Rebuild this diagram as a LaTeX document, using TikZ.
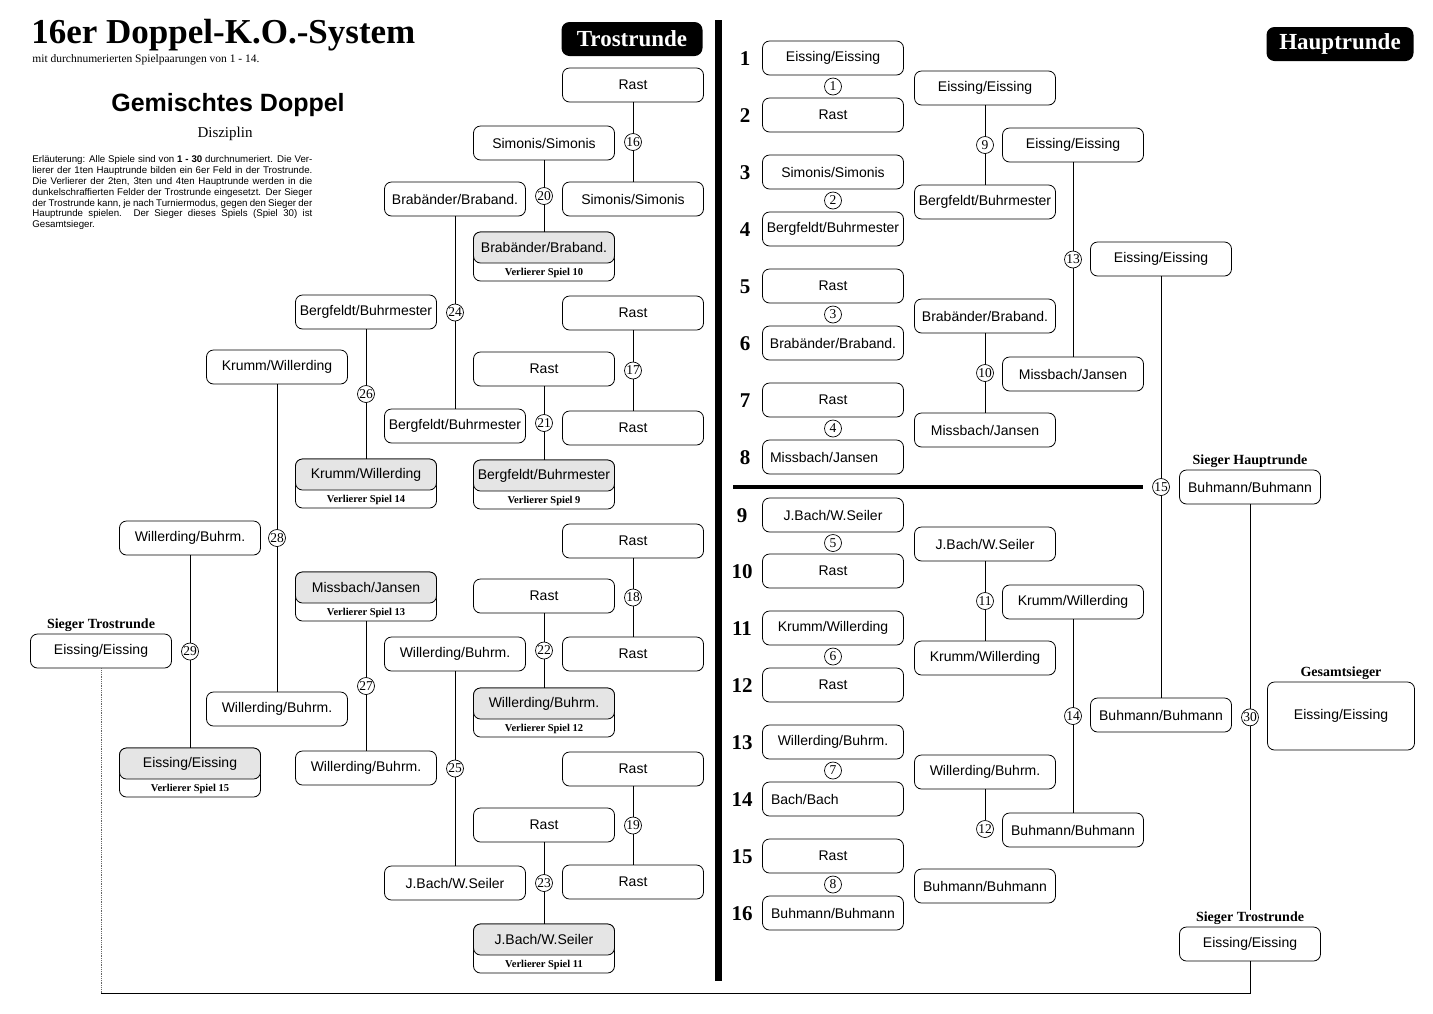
\documentclass[tikz,border=0pt]{standalone}
\usepackage{fontspec}
\setmainfont{Liberation Serif}
\setsansfont{Liberation Sans}
\usetikzlibrary{positioning}

\tikzset{
  spieler/.style={draw, line width=0.8pt, rounded corners=7pt, minimum width=141pt, minimum height=34pt, inner sep=2pt, font=\sffamily\fontsize{14}{14}\selectfont},
  verlierer/.style={draw, line width=0.8pt, rounded corners=7pt, minimum width=141pt, minimum height=49pt},
  schraffiert/.style={spieler, minimum height=31pt, fill=black!10},
  vlabel/.style={font=\bfseries\fontsize{10.5}{10.5}\selectfont, inner sep=1pt},
  spiel/.style={circle, draw, line width=0.7pt, fill=white, inner sep=0pt, minimum size=17pt, font=\fontsize{13.5}{13.5}\selectfont},
  sieger/.style={font=\bfseries\fontsize{14}{14}\selectfont, inner sep=1pt},
  runde/.style={fill=black, text=white, rounded corners=8pt, minimum height=34pt, inner sep=2pt, font=\bfseries\fontsize{23}{23}\selectfont},
  nummer/.style={font=\bfseries\fontsize{21}{21}\selectfont, inner sep=0pt},
}

\begin{document}
\begin{tikzpicture}[x=1pt, y=-1pt, line width=0.8pt]
\useasboundingbox (0,0) rectangle (1433,1013);

% Kopf
\node[anchor=base west, inner sep=0pt, font=\bfseries\fontsize{35}{35}\selectfont] (titel) at (31,43) {16er Doppel-K.O.-System};
\node[anchor=base west, inner sep=0pt, font=\fontsize{11.5}{11.5}\selectfont] (untertitel) at (32,62) {mit durchnumerierten Spielpaarungen von 1 - 14.};
\node[anchor=base, inner sep=0pt, font=\sffamily\bfseries\fontsize{25}{25}\selectfont] (disziplin) at (228,111) {Gemischtes Doppel};
\node[anchor=base, inner sep=0pt, font=\fontsize{15}{15}\selectfont] (disziplinlabel) at (225,137) {Disziplin};
\node[anchor=north west, inner sep=0pt, align=left, font=\sffamily\fontsize{9.7}{10.9}\selectfont] (erlaeuterung) at (32,155) {%
\makebox[280pt][s]{Erläuterung: Alle Spiele sind von \textbf{1 - 30} durchnumeriert. Die Ver-}\\
\makebox[280pt][s]{lierer der 1ten Hauptrunde bilden ein 6er Feld in der Trostrunde.}\\
\makebox[280pt][s]{Die Verlierer der 2ten, 3ten und 4ten Hauptrunde werden in die}\\
\makebox[280pt][s]{dunkelschraffierten Felder der Trostrunde eingesetzt. Der Sieger}\\
\makebox[280pt][s]{der Trostrunde kann, je nach Turniermodus, gegen den Sieger der}\\
\makebox[280pt][s]{Hauptrunde spielen. Der Sieger dieses Spiels (Spiel 30) ist}\\
Gesamtsieger.};

\node[runde, minimum width=141pt] (trost) at (632,39) {Trostrunde};
\node[runde, minimum width=147pt] (haupt) at (1340,44) {Hauptrunde};

% Trennbalken
\draw[line width=7pt] (718,20) -- (718,981);
\draw[line width=4pt] (733,487) -- (1143,487);

% Trostrunde
\node[spieler] (s16o) at (633,85) {Rast};
\node[spieler] (s16u) at (633,199) {Simonis/Simonis};
\node[spieler] (s17o) at (633,313) {Rast};
\node[spieler] (s17u) at (633,428) {Rast};
\node[spieler] (s18o) at (633,541) {Rast};
\node[spieler] (s18u) at (633,654) {Rast};
\node[spieler] (s19o) at (633,769) {Rast};
\node[spieler] (s19u) at (633,882) {Rast};

\node[spieler] (s20o) at (544,143) {Simonis/Simonis};
\node[verlierer] (s20u) at (544,256.5) {};
\node[schraffiert, below=0pt of s20u.north] (s20u-n) {Brabänder/Braband.};
\node[vlabel, above=2pt of s20u.south] (s20u-v) {Verlierer Spiel 10};
\node[spieler] (s21o) at (544,369) {Rast};
\node[verlierer] (s21u) at (544,484.5) {};
\node[schraffiert, below=0pt of s21u.north] (s21u-n) {Bergfeldt/Buhrmester};
\node[vlabel, above=2pt of s21u.south] (s21u-v) {Verlierer Spiel 9};
\node[spieler] (s22o) at (544,596) {Rast};
\node[verlierer] (s22u) at (544,712.5) {};
\node[schraffiert, below=0pt of s22u.north] (s22u-n) {Willerding/Buhrm.};
\node[vlabel, above=2pt of s22u.south] (s22u-v) {Verlierer Spiel 12};
\node[spieler] (s23o) at (544,825) {Rast};
\node[verlierer] (s23u) at (544,948.5) {};
\node[schraffiert, below=0pt of s23u.north] (s23u-n) {J.Bach/W.Seiler};
\node[vlabel, above=2pt of s23u.south] (s23u-v) {Verlierer Spiel 11};

\node[spieler] (s24o) at (455,199) {Brabänder/Braband.};
\node[spieler] (s24u) at (455,426) {Bergfeldt/Buhrmester};
\node[spieler] (s25o) at (455,654) {Willerding/Buhrm.};
\node[spieler] (s25u) at (455,883) {J.Bach/W.Seiler};

\node[spieler] (s26o) at (366,312) {Bergfeldt/Buhrmester};
\node[verlierer] (s26u) at (366,483.5) {};
\node[schraffiert, below=0pt of s26u.north] (s26u-n) {Krumm/Willerding};
\node[vlabel, above=2pt of s26u.south] (s26u-v) {Verlierer Spiel 14};
\node[verlierer] (s27o) at (366,596.5) {};
\node[schraffiert, below=0pt of s27o.north] (s27o-n) {Missbach/Jansen};
\node[vlabel, above=2pt of s27o.south] (s27o-v) {Verlierer Spiel 13};
\node[spieler] (s27u) at (366,768) {Willerding/Buhrm.};

\node[spieler] (s28o) at (277,367) {Krumm/Willerding};
\node[spieler] (s28u) at (277,709) {Willerding/Buhrm.};

\node[spieler] (s29o) at (190,538) {Willerding/Buhrm.};
\node[verlierer] (s29u) at (190,772.5) {};
\node[schraffiert, below=0pt of s29u.north] (s29u-n) {Eissing/Eissing};
\node[vlabel, above=2pt of s29u.south] (s29u-v) {Verlierer Spiel 15};

\node[spieler] (siegerT) at (101,651) {Eissing/Eissing};
\node[sieger, above=1pt of siegerT] (siegerTlabel) {Sieger Trostrunde};

\draw (s16o) -- (s16u) node[spiel, midway] (n16) {16};
\draw (s17o) -- (s17u) node[spiel, midway] (n17) {17};
\draw (s18o) -- (s18u) node[spiel, midway] (n18) {18};
\draw (s19o) -- (s19u) node[spiel, midway] (n19) {19};
\draw (s20o) -- (s20u) node[spiel, midway] (n20) {20};
\draw (s21o) -- (s21u) node[spiel, midway] (n21) {21};
\draw (s22o) -- (s22u) node[spiel, midway] (n22) {22};
\draw (s23o) -- (s23u) node[spiel, midway] (n23) {23};
\draw (s24o) -- (s24u) node[spiel, midway] (n24) {24};
\draw (s25o) -- (s25u) node[spiel, midway] (n25) {25};
\draw (s26o) -- (s26u) node[spiel, midway] (n26) {26};
\draw (s27o) -- (s27u) node[spiel, midway] (n27) {27};
\draw (s28o) -- (s28u) node[spiel, midway] (n28) {28};
\draw (s29o) -- (s29u) node[spiel, midway] (n29) {29};

% Hauptrunde
\node[nummer] (z1) at (745,59) {1};
\node[nummer] (z2) at (745,116) {2};
\node[nummer] (z3) at (745,173) {3};
\node[nummer] (z4) at (745,230) {4};
\node[nummer] (z5) at (745,287) {5};
\node[nummer] (z6) at (745,344) {6};
\node[nummer] (z7) at (745,401) {7};
\node[nummer] (z8) at (745,458) {8};
\node[nummer] (z9) at (742,516) {9};
\node[nummer] (z10) at (742,572) {10};
\node[nummer] (z11) at (742,629) {11};
\node[nummer] (z12) at (742,686) {12};
\node[nummer] (z13) at (742,743) {13};
\node[nummer] (z14) at (742,800) {14};
\node[nummer] (z15) at (742,857) {15};
\node[nummer] (z16) at (742,914) {16};

\node[spieler] (h1) at (833,58) {Eissing/Eissing};
\node[spieler] (h2) at (833,115) {Rast};
\node[spieler] (h3) at (833,172) {Simonis/Simonis};
\node[spieler] (h4) at (833,229) {Bergfeldt/Buhrmester};
\node[spieler] (h5) at (833,286) {Rast};
\node[spieler] (h6) at (833,343) {Brabänder/Braband.};
\node[spieler] (h7) at (833,400) {Rast};
\node[spieler, align=left, text width=126pt] (h8) at (833,457) {Missbach/Jansen};
\node[spieler] (h9) at (833,515) {J.Bach/W.Seiler};
\node[spieler] (h10) at (833,571) {Rast};
\node[spieler] (h11) at (833,628) {Krumm/Willerding};
\node[spieler] (h12) at (833,685) {Rast};
\node[spieler] (h13) at (833,742) {Willerding/Buhrm.};
\node[spieler, align=left, text width=124pt] (h14) at (833,799) {Bach/Bach};
\node[spieler] (h15) at (833,856) {Rast};
\node[spieler] (h16) at (833,913) {Buhmann/Buhmann};

\path (h1) -- (h2) node[spiel, midway] (n1) {1};
\path (h3) -- (h4) node[spiel, midway] (n2) {2};
\path (h5) -- (h6) node[spiel, midway] (n3) {3};
\path (h7) -- (h8) node[spiel, midway] (n4) {4};
\path (h9) -- (h10) node[spiel, midway] (n5) {5};
\path (h11) -- (h12) node[spiel, midway] (n6) {6};
\path (h13) -- (h14) node[spiel, midway] (n7) {7};
\path (h15) -- (h16) node[spiel, midway] (n8) {8};

\node[spieler] (s9o) at (985,88) {Eissing/Eissing};
\node[spieler] (s9u) at (985,202) {Bergfeldt/Buhrmester};
\node[spieler] (s10o) at (985,316) {Brabänder/Braband.};
\node[spieler] (s10u) at (985,430) {Missbach/Jansen};
\node[spieler] (s11o) at (985,544) {J.Bach/W.Seiler};
\node[spieler] (s11u) at (985,658) {Krumm/Willerding};
\node[spieler] (s12o) at (985,772) {Willerding/Buhrm.};
\node[spieler] (s12u) at (985,886) {Buhmann/Buhmann};

\node[spieler] (s13o) at (1073,145) {Eissing/Eissing};
\node[spieler] (s13u) at (1073,374) {Missbach/Jansen};
\node[spieler] (s14o) at (1073,602) {Krumm/Willerding};
\node[spieler] (s14u) at (1073,830) {Buhmann/Buhmann};

\node[spieler] (s15o) at (1161,259) {Eissing/Eissing};
\node[spieler] (s15u) at (1161,715) {Buhmann/Buhmann};

\node[spieler] (s30o) at (1250,487) {Buhmann/Buhmann};
\node[sieger, above=1pt of s30o] (s30olabel) {Sieger Hauptrunde};
\node[spieler] (s30u) at (1250,944) {Eissing/Eissing};
\node[sieger, above=1pt of s30u] (s30ulabel) {Sieger Trostrunde};
\node[spieler, minimum width=147pt, minimum height=68pt] (gesamt) at (1341,716) {Eissing/Eissing};
\node[sieger, above=1pt of gesamt] (gesamtlabel) {Gesamtsieger};

\draw (s9o) -- (s9u) node[spiel, midway] (n9) {9};
\draw (s10o) -- (s10u) node[spiel, midway] (n10) {10};
\draw (s11o) -- (s11u) node[spiel, midway] (n11) {11};
\path (s12o) -- (s12u) node[spiel, midway] (n12) {12};
\draw (s12o) -- (n12);
\draw (s13o) -- (s13u) node[spiel, midway] (n13) {13};
\draw (s14o) -- (s14u) node[spiel, midway] (n14) {14};
\draw (s15o) -- (s15u) node[spiel, midway] (n15) {15};
\draw (s30o) -- (s30ulabel) node[spiel, pos=0.525] (n30) {30};

% Sieger Trostrunde links nach rechts
\coordinate (ecke1) at (101,993);
\coordinate (ecke2) at (1250,993);
\draw[densely dotted, black!60] (siegerT) -- (ecke1);
\draw (ecke1) -- (ecke2) -- (s30u);

\end{tikzpicture}
\end{document}
